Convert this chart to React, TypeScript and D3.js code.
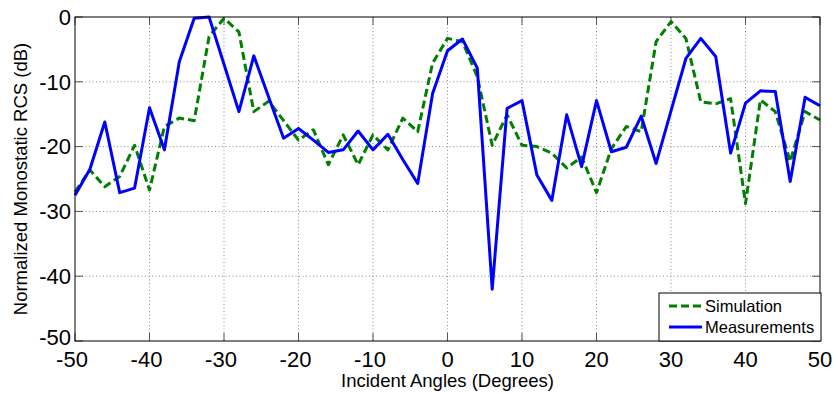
import { useEffect, useRef } from 'react';
import * as d3 from 'd3';

// incident angle, every 2 degrees from -50 to 50
const angles = d3.range(-50, 51, 2);

const simulation = [
  -27, -23.6, -26.2, -24.6, -19.8, -26.7, -16.9, -15.6, -16.0, -3.0,
  -0.2, -2.3, -14.6, -13.0, -16.0, -19.0, -17.4, -22.8, -18.2, -22.8,
  -18.2, -20.5, -15.6, -17.7, -7.1, -3.3, -3.8, -9.2, -19.8, -15.1,
  -19.8, -20.0, -21.0, -23.3, -21.6, -27.1, -20.3, -16.9, -17.7, -3.8,
  -0.7, -3.3, -13.1, -13.4, -12.6, -28.8, -12.8, -14.6, -22.3, -14.6,
  -15.9,
];

const measurements = [
  -27.5, -23.5, -16.2, -27.1, -26.4, -14.0, -20.5, -6.9, -0.2, 0,
  -7.3, -14.6, -6.0, -12.4, -18.7, -17.2, -19.0, -20.9, -20.5, -17.6,
  -20.5, -18.1, -22.0, -25.7, -11.8, -5.2, -3.4, -7.9, -42.0, -14.1,
  -12.9, -24.4, -28.3, -15.1, -23.1, -12.9, -20.8, -20.1, -15.3, -22.6,
  -14.5, -6.4, -3.3, -6.1, -21.0, -13.3, -11.4, -11.5, -25.4, -12.4,
  -13.7,
];

const xTicks = [-50, -40, -30, -20, -10, 0, 10, 20, 30, 40, 50];
const yTicks = [0, -10, -20, -30, -40, -50];

const seriesNames = ['Simulation', 'Measurements'];

export default function App() {
  const svgRef = useRef<SVGSVGElement>(null);

  useEffect(() => {
    if (!svgRef.current) return;
    const svg = d3.select(svgRef.current);
    svg.selectAll('*').remove();

    const width = 834;
    const height = 394;
    const margin = { top: 17, right: 14, bottom: 53, left: 75 };
    const innerWidth = width - margin.left - margin.right;
    const innerHeight = height - margin.top - margin.bottom;
    const font = '"Liberation Sans", Arial, sans-serif';

    const xScale = d3.scaleLinear().domain([-50, 50]).range([0, innerWidth]);
    const yScale = d3.scaleLinear().domain([-50, 0]).range([innerHeight, 0]);

    const g = svg.append('g').attr('transform', `translate(${margin.left},${margin.top})`);

    g.append('rect')
      .attr('width', innerWidth)
      .attr('height', innerHeight)
      .attr('fill', '#fff');

    // dotted grid
    g.selectAll('.grid-v')
      .data(xTicks.slice(1, -1))
      .enter()
      .append('line')
      .attr('x1', (d) => xScale(d))
      .attr('x2', (d) => xScale(d))
      .attr('y1', 0)
      .attr('y2', innerHeight)
      .attr('stroke', '#8c8c8c')
      .attr('stroke-width', 1)
      .attr('stroke-dasharray', '1,2.5');

    g.selectAll('.grid-h')
      .data(yTicks.slice(1, -1))
      .enter()
      .append('line')
      .attr('x1', 0)
      .attr('x2', innerWidth)
      .attr('y1', (d) => yScale(d))
      .attr('y2', (d) => yScale(d))
      .attr('stroke', '#8c8c8c')
      .attr('stroke-width', 1)
      .attr('stroke-dasharray', '1,2.5');

    // inward ticks on all four sides
    const tickLen = 8;
    xTicks.forEach((t) => {
      g.append('line')
        .attr('x1', xScale(t)).attr('x2', xScale(t))
        .attr('y1', innerHeight).attr('y2', innerHeight - tickLen)
        .attr('stroke', '#555').attr('stroke-width', 1);
      g.append('line')
        .attr('x1', xScale(t)).attr('x2', xScale(t))
        .attr('y1', 0).attr('y2', tickLen)
        .attr('stroke', '#555').attr('stroke-width', 1);
    });
    yTicks.forEach((t) => {
      g.append('line')
        .attr('x1', 0).attr('x2', tickLen)
        .attr('y1', yScale(t)).attr('y2', yScale(t))
        .attr('stroke', '#555').attr('stroke-width', 1);
      g.append('line')
        .attr('x1', innerWidth).attr('x2', innerWidth - tickLen)
        .attr('y1', yScale(t)).attr('y2', yScale(t))
        .attr('stroke', '#555').attr('stroke-width', 1);
    });

    const line = d3
      .line<number>()
      .x((_, i) => xScale(angles[i]))
      .y((d) => yScale(d));

    g.append('path')
      .datum(simulation)
      .attr('fill', 'none')
      .attr('stroke', '#007f00')
      .attr('stroke-width', 3)
      .attr('stroke-dasharray', '8,4')
      .attr('stroke-linejoin', 'round')
      .attr('d', line);

    g.append('path')
      .datum(measurements)
      .attr('fill', 'none')
      .attr('stroke', '#0000ff')
      .attr('stroke-width', 3)
      .attr('stroke-linejoin', 'round')
      .attr('d', line);

    // box
    g.append('rect')
      .attr('width', innerWidth)
      .attr('height', innerHeight)
      .attr('fill', 'none')
      .attr('stroke', '#000')
      .attr('stroke-width', 1);

    // tick labels
    g.selectAll('.xlabel')
      .data(xTicks)
      .enter()
      .append('text')
      .attr('x', (d) => xScale(d) - (d < 0 ? 3 : 0))
      .attr('y', innerHeight + 26)
      .attr('text-anchor', 'middle')
      .attr('font-family', font)
      .attr('font-size', 22)
      .attr('fill', '#000')
      .text((d) => d);

    g.selectAll('.ylabel')
      .data(yTicks)
      .enter()
      .append('text')
      .attr('x', -4)
      .attr('y', (d) => yScale(d) - (d === -50 ? 4 : 0))
      .attr('dy', '0.35em')
      .attr('text-anchor', 'end')
      .attr('font-family', font)
      .attr('font-size', 22)
      .attr('fill', '#000')
      .text((d) => d);

    // axis titles
    svg.append('text')
      .attr('x', margin.left + innerWidth / 2)
      .attr('y', 387)
      .attr('text-anchor', 'middle')
      .attr('font-family', font)
      .attr('font-size', 18.5)
      .attr('fill', '#000')
      .text('Incident Angles (Degrees)');

    svg.append('text')
      .attr('transform', `translate(27,${margin.top + innerHeight / 2}) rotate(-90)`)
      .attr('text-anchor', 'middle')
      .attr('font-family', font)
      .attr('font-size', 18.5)
      .attr('fill', '#000')
      .text('Normalized Monostatic RCS (dB)');

    // legend
    const legend = svg.append('g').attr('transform', 'translate(659,293)');
    legend.append('rect')
      .attr('width', 162)
      .attr('height', 48)
      .attr('fill', '#fff')
      .attr('stroke', '#000')
      .attr('stroke-width', 1);

    const legendStyles = [
      { color: '#007f00', dash: '8,4' },
      { color: '#0000ff', dash: null },
    ];
    seriesNames.forEach((name, i) => {
      const y = 13 + i * 21;
      legend.append('line')
        .attr('x1', 10).attr('x2', 43)
        .attr('y1', y).attr('y2', y)
        .attr('stroke', legendStyles[i].color)
        .attr('stroke-width', 3)
        .attr('stroke-dasharray', legendStyles[i].dash);
      legend.append('text')
        .attr('x', 46)
        .attr('y', y)
        .attr('dy', '0.35em')
        .attr('font-family', font)
        .attr('font-size', 16.5)
        .attr('fill', '#000')
        .text(name);
    });
  }, []);

  return (
    <svg
      ref={svgRef}
      width={834}
      height={394}
      style={{ position: 'absolute', left: 0, top: 0, display: 'block', background: '#fff' }}
    />
  );
}
